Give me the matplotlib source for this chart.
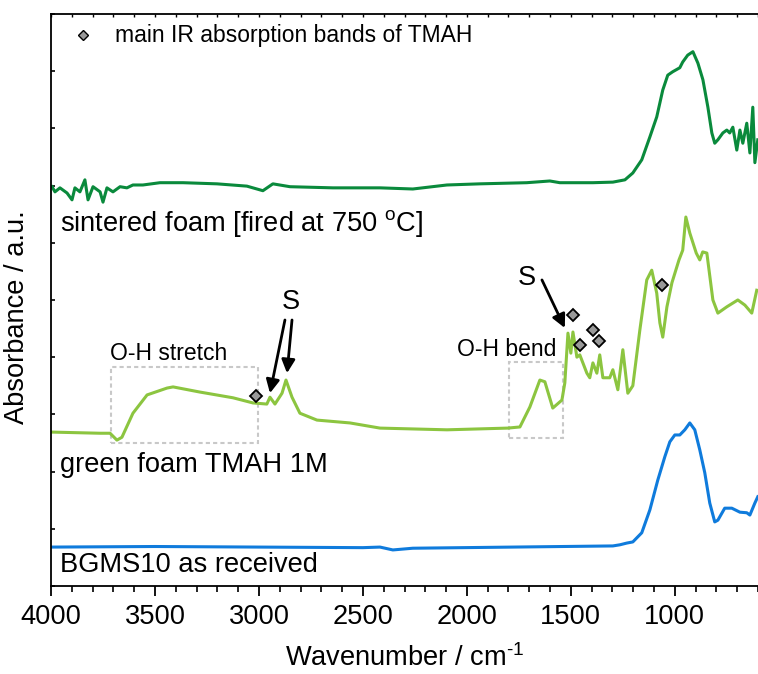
import matplotlib
matplotlib.use("Agg")
import matplotlib.pyplot as plt
from matplotlib.patches import Rectangle

plt.rcParams['font.family'] = ['Liberation Sans', 'DejaVu Sans']
plt.rcParams['mathtext.fontset'] = 'custom'
plt.rcParams['mathtext.rm'] = 'Liberation Sans'
plt.rcParams['mathtext.it'] = 'Liberation Sans:italic'

# --- spectra (wavenumber / offset absorbance) ---
sint_wn = [3995, 3981, 3957, 3923, 3899, 3885, 3861, 3837, 3822, 3798, 3764, 3750,
           3731, 3702, 3668, 3635, 3606, 3558, 3476, 3365, 3202, 3058, 2981, 2933,
           2851, 2644, 2418, 2260, 2096, 1938, 1712, 1601, 1553, 1394, 1298, 1240,
           1202, 1159, 1120, 1087, 1058, 1034, 1010, 976, 962, 938, 913, 889, 865,
           841, 822, 808, 793, 769, 750, 736, 721, 702, 687, 673, 654, 639, 625,
           615, 601]
sint_ab = [6.98, 6.89, 6.96, 6.87, 6.75, 6.96, 6.89, 7.10, 6.75, 6.98, 6.89, 6.71,
           6.96, 6.89, 6.98, 6.96, 7.01, 7.01, 7.05, 7.05, 7.03, 6.99, 6.91, 7.03,
           6.98, 6.96, 6.96, 6.94, 7.01, 7.03, 7.05, 7.08, 7.05, 7.05, 7.06, 7.10,
           7.22, 7.45, 7.85, 8.20, 8.67, 8.93, 8.99, 9.06, 9.16, 9.28, 9.34, 9.14,
           8.85, 8.37, 7.92, 7.74, 7.80, 7.92, 7.97, 7.92, 8.02, 7.62, 7.97, 7.74,
           8.09, 7.57, 8.37, 7.40, 7.80]

green_wn = [3995, 3764, 3716, 3683, 3659, 3606, 3538, 3442, 3413, 3284, 3125, 3029,
            2962, 2947, 2923, 2889, 2870, 2841, 2803, 2721, 2562, 2418, 2096, 1803,
            1745, 1697, 1649, 1625, 1587, 1543, 1529, 1514, 1500, 1490, 1471, 1457,
            1423, 1409, 1394, 1375, 1361, 1346, 1313, 1298, 1274, 1250, 1226, 1202,
            1168, 1135, 1111, 1087, 1072, 1058, 1038, 1014, 980, 962, 947, 928, 897,
            880, 866, 846, 817, 793, 750, 697, 663, 630, 606]
green_ab = [2.69, 2.67, 2.67, 2.55, 2.60, 3.02, 3.34, 3.46, 3.48, 3.39, 3.29, 3.20,
            3.18, 3.30, 3.18, 3.37, 3.60, 3.30, 3.02, 2.90, 2.85, 2.76, 2.73, 2.76,
            2.78, 3.13, 3.60, 3.57, 3.11, 3.25, 3.55, 4.42, 4.07, 4.44, 4.00, 4.04,
            3.72, 3.64, 3.90, 3.72, 4.04, 3.64, 3.64, 3.78, 3.43, 4.13, 3.37, 3.50,
            4.48, 5.35, 5.52, 5.12, 4.60, 4.35, 4.88, 5.30, 5.70, 5.87, 6.45, 6.17,
            5.82, 5.70, 5.84, 5.82, 5.00, 4.77, 4.88, 5.00, 4.91, 4.77, 5.17]

blue_wn = [3995, 3500, 3000, 2500, 2418, 2356, 2260, 1779, 1298, 1264, 1231, 1202,
           1159, 1120, 1082, 1048, 1024, 1000, 976, 952, 928, 904, 880, 856, 832,
           808, 793, 760, 726, 687, 654, 639, 615, 601]
blue_ab = [0.68, 0.69, 0.68, 0.67, 0.68, 0.63, 0.66, 0.68, 0.70, 0.72, 0.75, 0.77,
           0.93, 1.33, 1.85, 2.26, 2.52, 2.64, 2.64, 2.73, 2.85, 2.73, 2.38, 1.98,
           1.45, 1.12, 1.15, 1.36, 1.36, 1.29, 1.28, 1.24, 1.45, 1.56]

# TMAH band markers
tmah_wn = [3014, 1490, 1457, 1394, 1365, 1063]
tmah_ab = [3.32, 4.74, 4.21, 4.48, 4.28, 5.26]

fig = plt.figure(figsize=(7.58, 6.74), dpi=100)
ax = fig.add_axes([0.0673, 0.1306, 0.9327, 0.8487])

ax.plot(sint_wn, sint_ab, color='#0a8a3c', lw=2.2)
ax.plot(green_wn, green_ab, color='#8cc540', lw=2.2)
ax.plot(blue_wn, blue_ab, color='#0f7bdc', lw=2.2)

# dotted region boxes
ax.add_patch(Rectangle((3712, 2.50), 3005 - 3712, 3.83 - 2.50, fill=False,
                       ec='#c8c8c8', lw=1.5, ls=(0, (2, 1.5))))
ax.add_patch(Rectangle((1798, 2.59), 1538 - 1798, 3.92 - 2.59, fill=False,
                       ec='#c8c8c8', lw=1.5, ls=(0, (2, 1.5))))

ax.plot(tmah_wn, tmah_ab, ls='none', marker='D', ms=6.5, mfc='#999999',
        mec='k', mew=1.3, zorder=5)

# legend-like entry
ax.plot([3846], [9.63], ls='none', marker='D', ms=5, mfc='#999999', mec='k', mew=1)
ax.text(3690, 9.63, 'main IR absorption bands of TMAH', fontsize=16.5, va='center')

# sample labels
ax.text(3957, 6.33, r'sintered foam [fired at 750 $^{\mathrm{o}}$C]', fontsize=19.6, va='center')
ax.text(3957, 2.12, 'green foam TMAH 1M', fontsize=19.6, va='center')
ax.text(3957, 0.37, 'BGMS10 as received', fontsize=19.6, va='center')

ax.text(3712 + 5, 4.07, 'O-H stretch', fontsize=16.5, va='center')
ax.text(2048, 4.14, 'O-H bend', fontsize=16.5, va='center')

# S markers with arrows
ax.text(2846, 4.97, 'S', fontsize=19.6, ha='center', va='center')
ax.text(1712, 5.38, 'S', fontsize=19.6, ha='center', va='center')
arrow = dict(arrowstyle='-|>', color='k', lw=2, mutation_scale=20, shrinkA=0, shrinkB=0)
ax.annotate('', xy=(2947, 3.37), xytext=(2875, 4.65), arrowprops=arrow)
ax.annotate('', xy=(2865, 3.72), xytext=(2841, 4.65), arrowprops=arrow)
ax.annotate('', xy=(1529, 4.51), xytext=(1639, 5.35), arrowprops=arrow)

ax.set_xlim(4000, 600)
ax.set_ylim(0, 10)
ax.set_xticks([4000, 3500, 3000, 2500, 2000, 1500, 1000])
ax.set_xticks(range(600, 4001, 100), minor=True)
ax.set_yticks(range(0, 11))
ax.tick_params(axis='x', which='major', direction='out', length=7, width=1.3,
               labelsize=19.6, pad=6)
ax.tick_params(axis='x', which='minor', direction='out', length=4, width=1.2)
ax.tick_params(axis='y', direction='in', length=3, width=1.2, labelleft=False)
sec = ax.secondary_xaxis('top')
sec.set_xticks([4000, 3500, 3000, 2500, 2000, 1500, 1000])
sec.set_xticks(range(600, 4001, 100), minor=True)
sec.tick_params(which='both', direction='in', length=2, width=1.0, labeltop=False)
sec.spines['top'].set_visible(False)
for s in ['left', 'bottom', 'top']:
    ax.spines[s].set_linewidth(1.3)
ax.spines['right'].set_visible(False)

ax.set_xlabel(r'Wavenumber / cm$^{\text{-1}}$', fontsize=19.6, labelpad=10)
ax.set_ylabel('Absorbance / a.u.', fontsize=19.6)
ax.yaxis.set_label_coords(-0.03, 0.47)

fig.savefig('out.png', dpi=100)
